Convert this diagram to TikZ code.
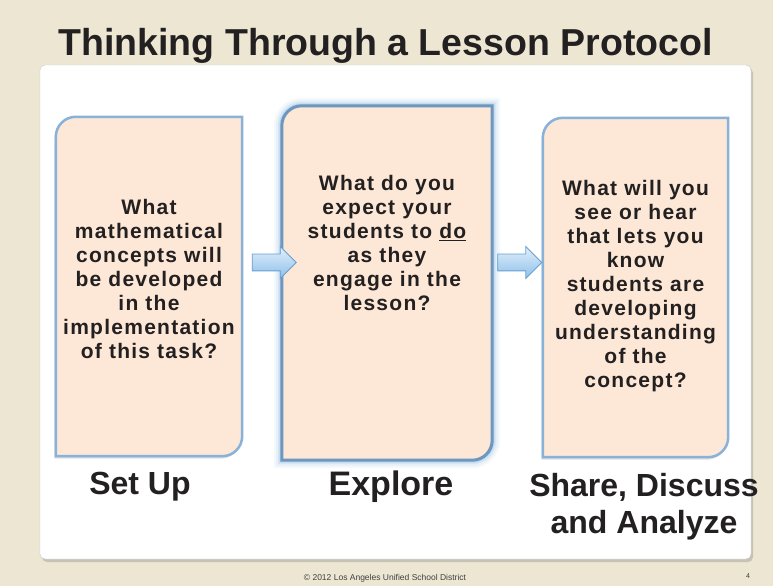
\documentclass[tikz,border=0pt]{standalone}
\usepackage{fontspec}
\setmainfont{Liberation Sans}
\newfontfamily\spacedfont[LetterSpace=6]{Liberation Sans}
\usetikzlibrary{shapes.arrows}
\usetikzlibrary{shadows}

\definecolor{slidebg}{HTML}{ECE6D3}
\definecolor{peach}{HTML}{FDE7D6}
\definecolor{edgeblue}{HTML}{88B2DA}
\definecolor{glowblue}{HTML}{7FB2E0}
\definecolor{arrowtop}{HTML}{E2EFFA}
\definecolor{arrowbot}{HTML}{8CC0EA}
\definecolor{arrowline}{HTML}{6A9FD0}
\definecolor{inktext}{HTML}{222020}

\tikzset{
	stage/.style={minimum width=#1, inner sep=0pt},
	stage outline/.style={insert path={
		([yshift=-20pt]#1.north west) arc[start angle=180, end angle=90, radius=20pt]
		-- (#1.north east) -- ([yshift=20pt]#1.south east)
		arc[start angle=0, end angle=-90, radius=20pt] -- (#1.south west) -- cycle}},
	question/.style={align=center, text=inktext, font=\spacedfont\bfseries\fontsize{21}{24}\selectfont},
	stagelabel/.style={align=center, text=inktext, font=\bfseries\fontsize{32}{37}\selectfont},
	flowarrow/.style={single arrow, single arrow head extend=7.5pt, single arrow head indent=0pt,
		inner sep=0pt, text height=16pt, text depth=0pt, minimum height=44pt,
		top color=arrowtop, bottom color=arrowbot, draw=arrowline, line width=0.8pt}
}

\begin{document}
\begin{tikzpicture}[x=1pt, y=1pt, every node/.style={font=\bfseries}]
		\fill[slidebg] (0,0) rectangle (773,586);
		\useasboundingbox (0,0) rectangle (773,586);
		\node[anchor=base west, text=inktext, font=\bfseries\fontsize{37.5}{44}\selectfont] (title) at (55,530) {Thinking Through a Lesson Protocol};
		\fill[white, rounded corners=5pt, draw=black!20, line width=0.4pt,
			drop shadow={shadow xshift=2pt, shadow yshift=-3pt, opacity=0.35}] (40,27) rectangle (751,521);
		\node[stage=186pt, minimum height=339pt] (setup) at (149,299.5) {};
		\node[stage=210pt, minimum height=354pt] (explore) at (387,303) {};
		\node[stage=185pt, minimum height=339pt] (share) at (635.5,298.5) {};
		\path[fill=peach, draw=edgeblue, line width=2.5pt, stage outline=setup,
			drop shadow={shadow xshift=-1.5pt, shadow yshift=-2.5pt, opacity=0.25}];
		\path[fill=peach, draw=edgeblue, line width=2.5pt, stage outline=share,
			drop shadow={shadow xshift=-1.5pt, shadow yshift=-2.5pt, opacity=0.25}];
		\foreach \w/\o in {16/0.07, 12/0.10, 8/0.16, 5/0.25}
			\path[draw=glowblue, line width=\w pt, opacity=\o, stage outline=explore];
		\path[fill=peach, draw=glowblue!85!black, line width=3pt, stage outline=explore];
		\node[question] (q1) at (149,307) {What\\mathematical\\concepts will\\be developed\\in the\\implementation\\of this task?};
		\node[question] (q2) at (387,343) {What do you\\expect your\\students to \underline{do}\\as they\\engage in the\\lesson?};
		\node[question] (q3) at (635.5,300) {What will you\\see or hear\\that lets you\\know\\students are\\developing\\understanding\\of the\\concept?};
		\node[flowarrow] (a1) at (270,323.5) {};
		\node[flowarrow] (a2) at (515.5,323.5) {};
		\node[stagelabel] (setupname) at (140,99) {Set Up};
		\node[stagelabel, font=\bfseries\fontsize{34}{40}\selectfont] (explorename) at (391,99) {Explore};
		\node[stagelabel] (sharename) at (644,79) {Share, Discuss\\and Analyze};
		\node[font=\fontsize{8.5}{10}\selectfont, text=black!75] (footer) at (385,8) {© 2012 Los Angeles Unified School District};
		\node[font=\fontsize{7}{8}\selectfont, text=black!75] (pageno) at (748,10) {4};
	\end{tikzpicture}
\end{document}
